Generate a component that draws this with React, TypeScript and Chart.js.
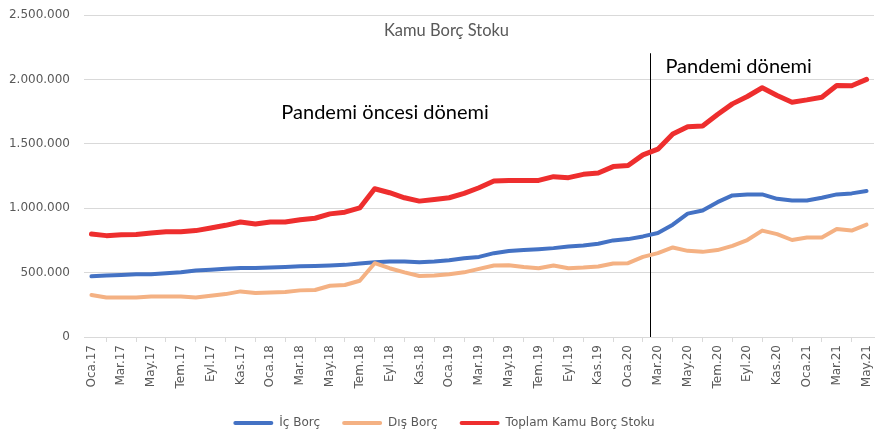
import React, { useEffect, useRef } from "react";
import { Chart, registerables } from "chart.js";

Chart.register(...registerables);

const monthNames = ["Oca", "Şub", "Mar", "Nis", "May", "Haz", "Tem", "Ağu", "Eyl", "Eki", "Kas", "Ara"];
const years = ["17", "18", "19", "20", "21"];
const lastYearMonths = 5;

const categories: string[] = [];
years.forEach((y, yi) => {
  const n = yi === years.length - 1 ? lastYearMonths : 12;
  for (let m = 0; m < n; m++) categories.push(`${monthNames[m]}.${y}`);
});

const icBorc = [
  471000, 477000, 482000, 487000, 487000, 495000, 502000, 516000, 523000, 529000, 536000, 536000,
  539000, 544000, 549000, 552000, 555000, 560000, 570000, 580000, 586000, 586000, 580000, 586000,
  596000, 612000, 622000, 651000, 667000, 675000, 682000, 690000, 703000, 711000, 724000, 750000,
  760000, 781000, 807000, 872000, 958000, 982000, 1047000, 1099000, 1107000, 1107000, 1073000, 1060000,
  1060000, 1081000, 1107000, 1115000, 1133000,
];

const disBorc = [
  326000, 307000, 307000, 307000, 315000, 315000, 315000, 307000, 320000, 333000, 354000, 341000,
  346000, 349000, 362000, 365000, 398000, 404000, 437000, 573000, 534000, 502000, 474000, 477000,
  487000, 502000, 529000, 555000, 557000, 544000, 534000, 555000, 534000, 539000, 547000, 570000,
  573000, 622000, 651000, 695000, 669000, 661000, 675000, 708000, 753000, 826000, 799000, 753000,
  773000, 773000, 838000, 826000, 872000,
];

const toplam = [
  799000, 787000, 794000, 795000, 807000, 818000, 818000, 826000, 846000, 867000, 893000, 877000,
  893000, 893000, 911000, 922000, 956000, 969000, 1002000, 1151000, 1120000, 1081000, 1055000, 1068000,
  1081000, 1115000, 1159000, 1211000, 1216000, 1216000, 1216000, 1245000, 1237000, 1263000, 1273000, 1323000,
  1331000, 1414000, 1458000, 1576000, 1633000, 1638000, 1727000, 1810000, 1867000, 1935000, 1875000, 1823000,
  1841000, 1862000, 1953000, 1951000, 2000000,
];

const seriesNames = ["İç Borç", "Dış Borç", "Toplam Kamu Borç Stoku"];
const chartTitle = "Kamu Borç Stoku";
const preLabel = "Pandemi öncesi dönemi";
const pandemicLabel = "Pandemi dönemi";
const pandemicStart = "Mar.20";

const formatNum = (v: number) => String(Math.round(v)).replace(/\B(?=(\d{3})+(?!\d))/g, ".");

const annotations = {
  id: "annotations",
  afterLayout(chart: any) {
    const lg = chart.legend;
    if (lg) {
      lg.left += 7;
      lg.right += 7;
    }
  },
  beforeDatasetsDraw(chart: any) {
    const { ctx, scales } = chart;
    const xs = scales.x;
    const ys = scales.y;
    const idx = categories.indexOf(pandemicStart);
    const x = Math.round((xs.getPixelForValue(idx - 1) + xs.getPixelForValue(idx)) / 2) + 0.5;
    ctx.save();
    ctx.strokeStyle = "#000000";
    ctx.lineWidth = 1;
    ctx.beginPath();
    ctx.moveTo(x, ys.getPixelForValue(2203000));
    ctx.lineTo(x, ys.getPixelForValue(0));
    ctx.stroke();
    ctx.restore();
  },
  afterDraw(chart: any) {
    const { ctx, scales } = chart;
    const xs = scales.x;
    const ys = scales.y;
    const idx = categories.indexOf(pandemicStart);
    const xLine = (xs.getPixelForValue(idx - 1) + xs.getPixelForValue(idx)) / 2;
    ctx.save();
    ctx.textBaseline = "alphabetic";
    ctx.fillStyle = "#595959";
    ctx.font = "16.5px Lato";
    ctx.textAlign = "center";
    ctx.fillText(chartTitle, chart.width / 2 + 9, ys.getPixelForValue(2336000));
    ctx.fillStyle = "#000000";
    ctx.font = "20px Lato";
    ctx.fillText(preLabel, xs.getPixelForValue(19.7), ys.getPixelForValue(1695000));
    ctx.textAlign = "left";
    ctx.fillText(pandemicLabel, xLine + 15, ys.getPixelForValue(2047000));
    ctx.restore();
  },
};

export default function App() {
  const ref = useRef<HTMLCanvasElement | null>(null);
  useEffect(() => {
    if (!ref.current) return;
    Chart.defaults.font.family = "'DejaVu Sans'";
    Chart.defaults.font.size = 12;
    Chart.defaults.color = "#595959";
    const chart = new Chart(ref.current, {
      type: "line",
      data: {
        labels: categories,
        datasets: [
          {
            label: seriesNames[0],
            data: icBorc,
            borderColor: "#4472C4",
            backgroundColor: "#4472C4",
            borderWidth: 4,
            order: 3,
          },
          {
            label: seriesNames[1],
            data: disBorc,
            borderColor: "#F4B183",
            backgroundColor: "#F4B183",
            borderWidth: 4,
            order: 2,
          },
          {
            label: seriesNames[2],
            data: toplam,
            borderColor: "#EE2E2E",
            backgroundColor: "#EE2E2E",
            borderWidth: 5,
            order: 1,
          },
        ],
      },
      options: {
        responsive: false,
        animation: false,
        devicePixelRatio: 1,
        layout: { padding: { left: 0, right: 1, top: 15, bottom: -5 } },
        elements: {
          point: { radius: 0, hoverRadius: 0 },
          line: { tension: 0, borderJoinStyle: "round", borderCapStyle: "round" },
        },
        plugins: {
          title: { display: false },
          tooltip: { enabled: false },
          legend: {
            position: "bottom",
            labels: {
              boxWidth: 40,
              boxHeight: 4,
              padding: 22,
              color: "#595959",
              font: { family: "'DejaVu Sans'", size: 12 },
              sort: (a: any, b: any) => a.datasetIndex - b.datasetIndex,
              generateLabels: (c: any) =>
                (Chart.defaults.plugins.legend.labels.generateLabels as any)(c).map((l: any) => ({
                  ...l,
                  lineWidth: 0,
                  fillStyle: l.strokeStyle,
                  borderRadius: 2,
                })),
            },
          },
        },
        scales: {
          x: {
            offset: true,
            afterFit: (s: any) => {
              s.height = 58;
              s.paddingLeft = 0;
              s.paddingRight = 0;
            },
            grid: {
              offset: true,
              drawOnChartArea: false,
              drawTicks: true,
              tickLength: 5,
              color: "#d9d9d9",
            },
            border: { display: true, color: "#d9d9d9", width: 1 },
            ticks: {
              autoSkip: false,
              minRotation: 90,
              maxRotation: 90,
              padding: 3,
              color: "#595959",
              font: { family: "'DejaVu Sans'", size: 12 },
              callback: (_v: any, i: number) => (i % 2 === 0 ? categories[i] : null),
            },
          },
          y: {
            min: 0,
            max: 2500000,
            afterFit: (s: any) => {
              s.width = 84;
              s.paddingTop = 0;
              s.paddingBottom = 0;
            },
            grid: { color: "#d9d9d9", lineWidth: 1, drawTicks: false },
            border: { display: false },
            ticks: {
              stepSize: 500000,
              padding: 14,
              color: "#595959",
              font: { family: "'DejaVu Sans'", size: 12 },
              callback: (v: any) => formatNum(Number(v)),
            },
          },
        },
      },
      plugins: [annotations],
    });
    return () => chart.destroy();
  }, []);
  return (
    <div style={{ position: "absolute", left: 0, top: 0, width: 875, height: 434 }}>
      <canvas ref={ref} width={875} height={434} />
    </div>
  );
}
